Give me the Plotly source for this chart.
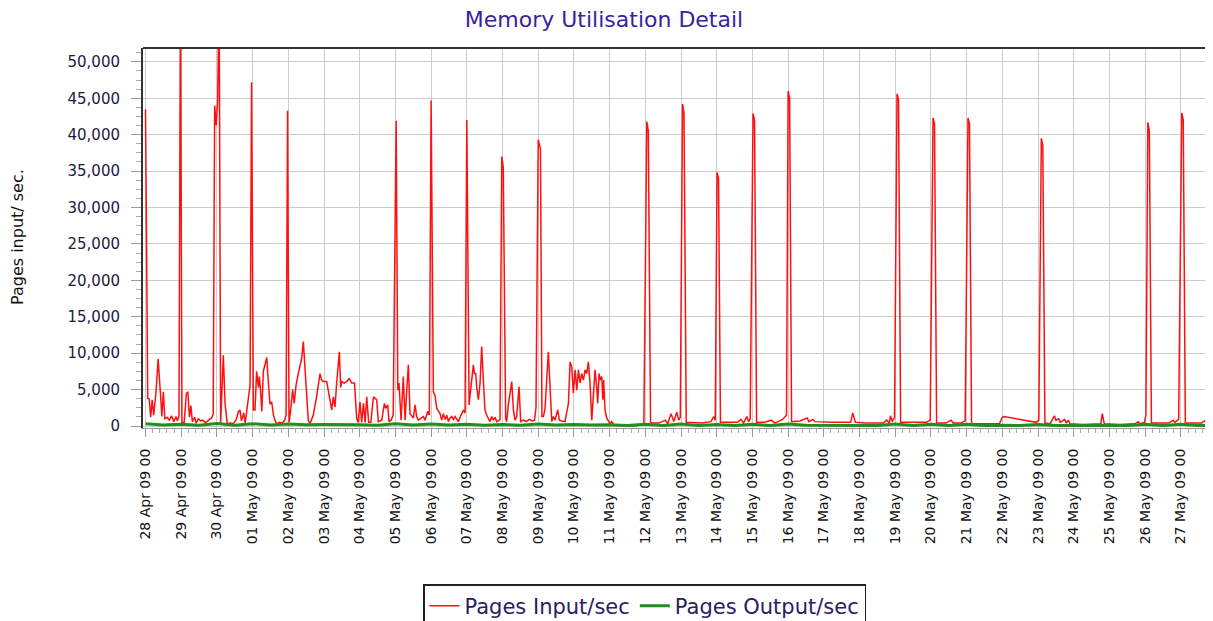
import pandas as pd
import plotly.graph_objects as go

# ---- data (hours after 28 Apr 2009 00:00, pages/sec) ----
start_time = "2009-04-28 00:00"

pages_input = [
    (0, 43500), (1.5, 3800), (2.5, 3700), (3.5, 1200), (4.5, 3600), (5.5, 1500), (7, 4500),
    (8.5, 9200), (10, 4600), (11, 1300), (12, 4700), (13, 1000), (14.5, 1200), (16, 800),
    (17.5, 1400), (19, 600), (20.5, 1300), (21.5, 700), (22.5, 1400), (23.5, 60000), (24.5, 400),
    (26, 500), (27.5, 4500), (28.5, 4700), (29.5, 1200), (30.5, 2800), (31.5, 600), (33, 1200),
    (34, 400), (35.5, 1000), (37, 700), (38.5, 800), (40, 500), (41.5, 600), (43, 900),
    (44.5, 1100), (45.5, 1600), (46.5, 44000), (47.5, 41300), (48.5, 44500), (49.5, 60000),
    (50.5, 300), (52.3, 9700), (53.5, 3000), (55, 300), (57, 400), (59, 300), (61, 900),
    (62.5, 2000), (63.5, 2200), (64.5, 700), (66, 1800), (67, 400), (68.5, 2500), (69.5, 4000),
    (70.3, 5600), (71.3, 47200), (72.5, 2200), (73.6, 2200), (74.7, 7500), (75.9, 5300),
    (76.5, 6800), (77.4, 4700), (78.2, 2000), (79.2, 7500), (81.5, 9400), (82.6, 5900),
    (83.7, 3000), (84.8, 3300), (86, 1500), (87, 800), (88.2, 300), (90, 500), (92, 400),
    (93.5, 800), (94.5, 1500), (95.5, 43300), (96.5, 500), (97.6, 2200), (98.9, 5000),
    (100, 3100), (101.2, 5600), (102.7, 7200), (105, 9300), (106.1, 11600), (107.7, 6300),
    (108.5, 4000), (109.4, 800), (110.6, 300), (112.8, 1500), (115, 4000), (117.3, 7200),
    (118.4, 6300), (119.5, 6100), (121.8, 6100), (122.9, 4900), (124, 3300), (125.2, 2200),
    (126.3, 4000), (127.4, 2600), (128.5, 5900), (130.3, 10200), (131.2, 5300), (131.9, 6100),
    (133.5, 5900), (135.2, 6100), (136.9, 6500), (138.6, 5900), (140.5, 5900), (142, 1000),
    (143, 500), (144.2, 3300), (145.3, 500), (146.5, 3100), (147.6, 500), (148.7, 4000),
    (150, 500), (151.5, 500), (153.2, 4000), (154.3, 3800), (155.4, 3600), (156.5, 600),
    (158.8, 800), (160.6, 3100), (161.5, 2400), (162.8, 2900), (163.7, 600), (165.1, 800),
    (166.5, 1500), (168.5, 41900), (169.6, 4900), (170.4, 5900), (171.8, 800), (173.3, 6800),
    (174.5, 800), (175.6, 4900), (176.7, 8400), (177.8, 1700), (180.1, 1100), (181.2, 2900),
    (182.3, 1300), (183.4, 800), (185.7, 1100), (186.8, 1300), (187.9, 800), (189.7, 2000),
    (190.8, 1500), (192, 44700), (193.5, 4700), (194.6, 4200), (195.8, 2400), (196.9, 2000),
    (198, 1700), (199.1, 800), (200.2, 1700), (201.4, 900), (202.5, 1500), (203.6, 600),
    (204.7, 1100), (205.8, 1300), (207, 900), (208.1, 1300), (209.2, 900), (210.3, 600),
    (212.1, 1500), (213.7, 2200), (214.8, 1800), (216, 42000), (217.5, 2900), (218.8, 5600),
    (220.4, 8400), (221.1, 7200), (222, 7200), (222.6, 5400), (223.8, 3600), (224.9, 5900),
    (226, 10900), (227.1, 6300), (228.2, 2200), (229.3, 1500), (230.5, 1100), (231.6, 600),
    (232.7, 1300), (233.8, 800), (235, 1200), (236.1, 600), (237.2, 700), (238.3, 900),
    (239.5, 37000), (240.5, 35500), (242.1, 1000), (242.8, 600), (243.9, 2900), (245, 4500),
    (246.2, 6100), (247.3, 2200), (248.4, 800), (249.5, 1300), (251.1, 5400), (252.2, 600),
    (254, 800), (256, 600), (258, 900), (260, 700), (261.5, 800), (262.5, 2500), (264, 39300),
    (265.5, 38000), (266.5, 1300), (267.5, 1300), (268.6, 2400), (270.8, 10200), (272, 4000),
    (273.1, 600), (274.2, 1300), (275.3, 800), (277.1, 2200), (278.2, 800), (279.8, 700),
    (282, 600), (284.3, 3100), (285.4, 8800), (286.5, 8100), (287.6, 4500), (288.8, 7700),
    (289.9, 4900), (291, 7700), (292.1, 5900), (293.2, 7200), (294.4, 6300), (295.5, 7700),
    (296.6, 7200), (297.7, 8800), (298.8, 5900), (300, 800), (301.1, 4000), (302.2, 7700),
    (303.3, 5400), (304, 3100), (304.9, 7200), (305.8, 6300), (306.7, 6800), (307.4, 3600),
    (308, 6300), (308.9, 2200), (310, 1100), (311.2, 700), (312.3, 300), (313.4, 600),
    (315, 100), (320, 50), (330, 50), (335, 300), (337, 41800), (338, 40500), (339.5, 400),
    (345, 400), (349.5, 800), (351, 300), (353.3, 1700), (355.1, 600), (357.1, 1900),
    (358.5, 800), (359.5, 1200), (361, 44200), (362, 43000), (363.5, 500), (368, 500),
    (374, 400), (380, 600), (382, 1300), (383, 800), (384.2, 34800), (385.2, 34000),
    (386.5, 500), (392, 500), (398, 500), (400.3, 900), (402, 400), (404.2, 1300), (405.5, 600),
    (406.5, 1000), (408.4, 42900), (409.4, 42000), (410.8, 500), (416, 500), (420.7, 800),
    (423, 400), (428.3, 900), (430.9, 1500), (432, 46000), (433, 45000), (434.3, 600),
    (440, 700), (444.8, 1100), (446, 600), (448.7, 900), (450, 600), (456, 500), (462, 500),
    (468, 500), (474, 500), (475.4, 1800), (477.2, 500), (484, 400), (490, 400), (496, 400),
    (498.2, 800), (500, 400), (500.8, 1400), (502, 600), (503.5, 1200), (505.2, 45600),
    (506.2, 44800), (507.6, 500), (514, 500), (520, 500), (525, 500), (527.5, 800),
    (529.4, 42300), (530.4, 41500), (531.8, 400), (538, 400), (541.5, 800), (543, 400),
    (548, 400), (551, 700), (552.9, 42300), (553.9, 41500), (555.3, 300), (562, 300),
    (570, 300), (574, 300), (576, 1200), (577.1, 1300), (598.7, 500), (600.5, 800),
    (602.2, 39500), (603.2, 38500), (604.6, 400), (608, 300), (611, 1400), (612, 800),
    (613.9, 1000), (615, 500), (617.8, 900), (619, 400), (620.3, 800), (621.5, 300), (630, 200),
    (640, 200), (642.2, 300), (643.2, 1700), (644.5, 300), (655, 200), (665, 300), (667.4, 600),
    (668.5, 300), (671.5, 500), (672.5, 1500), (673.8, 41700), (674.8, 40500), (676.2, 400),
    (682, 400), (688, 400), (690.8, 800), (692, 500), (694.5, 900), (696.6, 43000),
    (697.6, 42000), (699, 400), (705, 400), (710, 400), (711.9, 700), (713, 400), (715.6, 700),
    (717.5, 400),
]

output_hours = [0, 12, 24, 36, 48, 60, 72, 84, 96, 108, 120, 132, 144, 156, 168, 180, 192, 204,
                216, 228, 240, 252, 264, 276, 288, 300, 312, 324, 336, 348, 360, 372, 384, 396,
                408, 420, 432, 444, 456, 468, 480, 492, 504, 516, 528, 540, 552, 564, 576, 588,
                600, 612, 624, 636, 648, 660, 672, 684, 696, 708, 717.5]
output_values = [300, 120, 250, 90, 350, 110, 320, 150, 280, 180,
                 200, 130, 160, 100, 300, 140, 260, 120, 240, 110,
                 220, 90, 260, 150, 200, 140, 180, 60, 240, 80,
                 260, 70, 220, 80, 250, 70, 280, 90, 100, 80,
                 120, 70, 260, 80, 240, 70, 230, 60, 90, 60,
                 220, 70, 80, 60, 90, 60, 230, 70, 250, 80,
                 90]

title_text = "Memory Utilisation Detail"
y_title = "Pages input/ sec."
series_names = ["Pages Input/sec", "Pages Output/sec"]
x_range = ["2009-04-27 22:19", "2009-05-27 21:36"]
y_range = [-275, 51900]

# ---- build ----
t0 = pd.Timestamp(start_time)
in_x = [t0 + pd.Timedelta(hours=h) for h, _ in pages_input]
in_y = [v for _, v in pages_input]
out_x = [t0 + pd.Timedelta(hours=h) for h in output_hours]

fig = go.Figure()
fig.add_trace(go.Scatter(x=in_x, y=in_y, mode="lines", name=series_names[0],
                         line=dict(color="#ff1010", width=1.5)))
fig.add_trace(go.Scatter(x=out_x, y=output_values, mode="lines", name=series_names[1],
                         line=dict(color="#1f8f1f", width=3)))

# page body has an 8px margin, so the figure is 8px smaller than the window
W, H = 1205, 613
L, T, B = 135, 40, 193
PW, PH = W - L, H - T - B   # 1070 x 380

font_family = "DejaVu Sans"
fig.update_layout(
    width=W, height=H,
    margin=dict(l=L, r=0, t=T, b=B, autoexpand=False),
    paper_bgcolor="white", plot_bgcolor="white",
    title=dict(text=title_text, x=596 / W, xref="container", xanchor="center",
               y=1 - 11 / H, yref="container", yanchor="middle",
               font=dict(family=font_family, size=22, color="#3a1f9e")),
    showlegend=True,
    legend=dict(orientation="h", x=(415 - L) / PW, xanchor="left",
                y=(420 - 576) / PH, yanchor="top",
                bordercolor="#222222", borderwidth=1.5, bgcolor="white",
                font=dict(family=font_family, size=21, color="#2b2060"),
                itemwidth=30, tracegroupgap=0),
    xaxis=dict(
        type="date", range=x_range,
        tick0="2009-04-28", dtick=86400000, tickformat="%d %b %y %H",
        tickangle=-90, tickfont=dict(family=font_family, size=14, color="#111111"),
        ticks="outside", ticklen=8, tickcolor="#999999", ticklabelstandoff=6,
        minor=dict(dtick=17280000, ticks="outside", ticklen=4, tickcolor="#aaaaaa", showgrid=False),
        showgrid=True, gridcolor="#cccccc", gridwidth=1,
        showline=True, linecolor="#999999", linewidth=1,
        zeroline=False,
    ),
    yaxis=dict(
        range=y_range, dtick=5000, tick0=0, tickformat=",d",
        tickfont=dict(family=font_family, size=15, color="#1c2040"),
        ticks="outside", ticklen=10, tickcolor="#999999", ticklabelstandoff=8,
        minor=dict(dtick=1250, ticks="outside", ticklen=5, tickcolor="#aaaaaa", showgrid=False),
        showgrid=True, gridcolor="#cccccc", gridwidth=1,
        showline=True, linecolor="#333333", linewidth=2,
        zeroline=False,
    ),
)

# top border of the plot frame
fig.add_shape(type="line", xref="paper", yref="paper", x0=0, x1=1, y0=1, y1=1,
              line=dict(color="#333333", width=2))

# y axis title
fig.add_annotation(text=y_title, textangle=-90, xref="paper", yref="paper",
                   x=(9 - L) / PW, y=(420 - 229) / PH, xanchor="center", yanchor="middle",
                   showarrow=False, font=dict(family=font_family, size=16, color="#111111"))

fig.write_html("out.html")
